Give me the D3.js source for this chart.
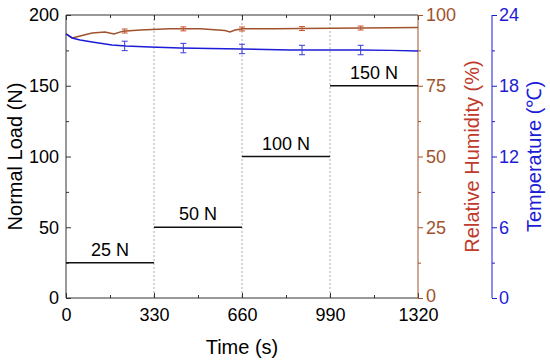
<!DOCTYPE html>
<html><head><meta charset="utf-8">
<script src="https://cdn.jsdelivr.net/npm/d3@7"></script>
<style>body{margin:0;background:#fff}text{font-family:"Liberation Sans",Arial,sans-serif}</style>
</head><body><svg id="c" width="550" height="361"></svg>
<script>
const timeTicks = [0, 330, 660, 990, 1320];
const loadTicks = [0, 50, 100, 150, 200];
const rhTicks = [0, 25, 50, 75, 100];
const tempTicks = [0, 6, 12, 18, 24];
const loadSteps = [
  {start: 0, end: 330, load: 25, label: "25 N"},
  {start: 330, end: 660, load: 50, label: "50 N"},
  {start: 660, end: 990, load: 100, label: "100 N"},
  {start: 990, end: 1320, load: 150, label: "150 N"}
];
const rhTime = [0, 23, 53, 98, 146, 180, 214, 278, 390, 503, 596, 615, 634, 664, 780, 878, 1000, 1103, 1220, 1320];
const rhValue = [93.3, 91.9, 92.6, 93.6, 94.0, 93.3, 94.3, 94.7, 95.1, 95.1, 94.5, 94.0, 94.7, 95.1, 95.1, 95.2, 95.3, 95.4, 95.5, 95.6];
const tempTime = [0, 23, 53, 98, 172, 225, 315, 428, 540, 660, 840, 1000, 1100, 1220, 1320];
const tempValue = [22.39, 22.05, 21.88, 21.71, 21.46, 21.37, 21.29, 21.2, 21.15, 21.12, 21.03, 21.03, 21.03, 21.0, 20.94];
const errTime = [220, 440, 660, 885, 1105];
const rhErr = [0.7, 0.7, 0.7, 0.7, 0.7];
const tempErr = [0.4, 0.4, 0.4, 0.4, 0.4];

const svg = d3.select("#c");
const L = 66, R = 418, T = 15, B = 298;
const x = d3.scaleLinear().domain([0, 1320]).range([L, R]);
const yL = d3.scaleLinear().domain([0, 200]).range([B, T]);
const yRH = d3.scaleLinear().domain([0, 100]).range([B, T]);
const yT = d3.scaleLinear().domain([0, 24]).range([B, T]);
const dark = "#333";
const brown = "#a0522d";
const blue = "#1c1cd6";
const fsTick = 18, fsTitle = 20, fsStep = 18;

// dotted verticals
svg.selectAll(".vl").data([330, 660, 990]).enter().append("line")
  .attr("x1", d => x(d)).attr("x2", d => x(d)).attr("y1", T).attr("y2", B)
  .attr("stroke", "#aaa").attr("stroke-width", 1).attr("stroke-dasharray", "2,2");

function styleAxis(g, color) {
  g.select(".domain").remove();
  g.selectAll("line").attr("stroke", color);
  g.selectAll("text").attr("fill", color).style("font-size", fsTick + "px")
    .style("font-family", "'Liberation Sans',Arial,sans-serif");
}

// bottom axis (ticks inward)
const gB = svg.append("g").attr("transform", `translate(0,${B})`);
gB.call(d3.axisBottom(x).tickValues(timeTicks).tickSize(-5).tickPadding(10).tickFormat(d3.format("d")));
styleAxis(gB, dark);
gB.selectAll("text").attr("fill", "#000");
const gBm = svg.append("g").attr("transform", `translate(0,${B})`);
gBm.call(d3.axisBottom(x).tickValues([165, 495, 825, 1155]).tickSize(-3).tickFormat(""));
styleAxis(gBm, dark);
// top ticks
const gTop = svg.append("g").attr("transform", `translate(0,${T})`);
gTop.call(d3.axisTop(x).tickValues(timeTicks).tickSize(-5).tickFormat(""));
styleAxis(gTop, dark);
const gTopm = svg.append("g").attr("transform", `translate(0,${T})`);
gTopm.call(d3.axisTop(x).tickValues([165, 495, 825, 1155]).tickSize(-3).tickFormat(""));
styleAxis(gTopm, dark);

// left axis (ticks inward)
const gL = svg.append("g").attr("transform", `translate(${L},0)`);
gL.call(d3.axisLeft(yL).tickValues(loadTicks).tickSize(-5).tickPadding(7));
styleAxis(gL, dark);
gL.selectAll("text").attr("fill", "#000");
const gLm = svg.append("g").attr("transform", `translate(${L},0)`);
gLm.call(d3.axisLeft(yL).tickValues([25, 75, 125, 175]).tickSize(-3).tickFormat(""));
styleAxis(gLm, dark);

// RH axis (outward)
const gR = svg.append("g").attr("transform", `translate(${R},0)`);
gR.call(d3.axisRight(yRH).tickValues(rhTicks).tickSize(5).tickPadding(3));
styleAxis(gR, brown);
gR.selectAll("text").filter(d => d === 0).attr("dy", "0.2em");
const gRm = svg.append("g").attr("transform", `translate(${R},0)`);
gRm.call(d3.axisRight(yRH).tickValues([12.5, 37.5, 62.5, 87.5]).tickSize(3).tickFormat(""));
styleAxis(gRm, brown);

// temperature axis
const TX = 492;
const gT = svg.append("g").attr("transform", `translate(${TX},0)`);
gT.call(d3.axisRight(yT).tickValues(tempTicks).tickSize(5).tickPadding(2));
styleAxis(gT, blue);
const gTm = svg.append("g").attr("transform", `translate(${TX},0)`);
gTm.call(d3.axisRight(yT).tickValues([3, 9, 15, 21]).tickSize(3).tickFormat(""));
styleAxis(gTm, blue);
svg.append("line").attr("x1", TX).attr("x2", TX).attr("y1", T).attr("y2", B).attr("stroke", blue);

// frame
svg.append("line").attr("x1", L).attr("x2", R).attr("y1", T).attr("y2", T).attr("stroke", dark);
svg.append("line").attr("x1", L).attr("x2", R).attr("y1", B).attr("y2", B).attr("stroke", dark);
svg.append("line").attr("x1", L).attr("x2", L).attr("y1", T).attr("y2", B).attr("stroke", dark);
svg.append("line").attr("x1", R).attr("x2", R).attr("y1", T).attr("y2", B).attr("stroke", brown);

// load steps
svg.selectAll(".step").data(loadSteps).enter().append("line")
  .attr("x1", d => x(d.start)).attr("x2", d => x(d.end))
  .attr("y1", d => yL(d.load)).attr("y2", d => yL(d.load))
  .attr("stroke", "#111").attr("stroke-width", 1.5);
svg.selectAll(".stepl").data(loadSteps).enter().append("text")
  .attr("x", d => x((d.start + d.end) / 2)).attr("y", d => yL(d.load) - 7)
  .attr("text-anchor", "middle").style("font-size", fsStep + "px").attr("fill", "#000")
  .text(d => d.label);

// lines
const rhData = rhTime.map((t, i) => [t, rhValue[i]]);
const tData = tempTime.map((t, i) => [t, tempValue[i]]);
svg.append("path").datum(rhData)
  .attr("d", d3.line().x(d => x(d[0])).y(d => yRH(d[1])))
  .attr("fill", "none").attr("stroke", brown).attr("stroke-width", 1.5);
svg.append("path").datum(tData)
  .attr("d", d3.line().x(d => x(d[0])).y(d => yT(d[1])))
  .attr("fill", "none").attr("stroke", blue).attr("stroke-width", 1.5);

// error bars
function errBars(errs, yS, color, line) {
  const g = svg.append("g");
  errTime.forEach((t, i) => {
    const idx = d3.bisector(d => d[0]).left(line, t);
    const a = line[Math.max(0, idx - 1)], b = line[Math.min(line.length - 1, idx)];
    const f = b[0] === a[0] ? 0 : (t - a[0]) / (b[0] - a[0]);
    const m = a[1] + f * (b[1] - a[1]);
    const xx = x(t);
    g.append("line").attr("x1", xx).attr("x2", xx).attr("y1", yS(m - errs[i])).attr("y2", yS(m + errs[i])).attr("stroke", color);
    [m - errs[i], m + errs[i]].forEach(e => {
      g.append("line").attr("x1", xx - 3).attr("x2", xx + 3).attr("y1", yS(e)).attr("y2", yS(e)).attr("stroke", color);
    });
  });
}
errBars(rhErr, yRH, "#c8502a", rhData);
errBars(tempErr, yT, "#3b3bd8", tData);

// axis titles
svg.append("text").attr("transform", `translate(22,${(T + B) / 2}) rotate(-90)`)
  .attr("text-anchor", "middle").style("font-size", fsTitle + "px").attr("fill", "#000").text("Normal Load (N)");
svg.append("text").attr("x", x(660)).attr("y", 354).attr("text-anchor", "middle")
  .style("font-size", fsTitle + "px").attr("fill", "#000").text("Time (s)");
svg.append("text").attr("transform", `translate(479,${(T + B) / 2}) rotate(-90)`)
  .attr("text-anchor", "middle").style("font-size", fsTitle + "px").attr("fill", "#c0392b").text("Relative Humidity (%)");
svg.append("text").attr("transform", `translate(541,${(T + B) / 2}) rotate(-90)`)
  .attr("text-anchor", "middle").style("font-size", fsTitle + "px").attr("fill", blue).text("Temperature (℃)");
</script></body></html>
